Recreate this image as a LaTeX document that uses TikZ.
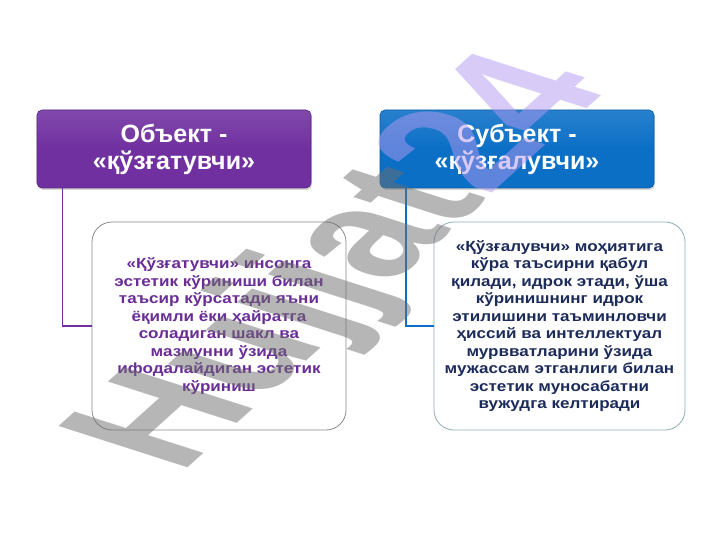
\documentclass[tikz,border=0pt]{standalone}
\usepackage{fontspec}
\setmainfont{Liberation Sans}
\newfontfamily\boxfont[FakeStretch=1.16]{Liberation Sans}
\usetikzlibrary{shadows}
\definecolor{objpurple}{HTML}{7030A0}
\definecolor{subjblue}{HTML}{0B6FC6}
\definecolor{objink}{HTML}{6A2D96}
\definecolor{subjink}{HTML}{1C2B5A}
\definecolor{objedge}{HTML}{8A8A8A}
\definecolor{subjedge}{HTML}{8FAFB8}
\definecolor{wmgray}{HTML}{6E6E6E}
\definecolor{wmlav}{HTML}{B399F0}
\tikzset{ head/.style={draw=#1!80!black, line width=0.6bp,
            top color=#1!88!white, bottom color=#1, middle color=#1,
            rounded corners=5bp, minimum width=274bp, minimum height=78bp,
            text=white, align=center,
            font=\bfseries\fontsize{25bp}{27bp}\selectfont,
            drop shadow={opacity=0.3, shadow xshift=1bp, shadow yshift=-2bp}, }}
\tikzset{ txtbox/.style={draw=#1, line width=0.8bp, fill=white,
            rounded corners=20bp, minimum width=254bp, minimum height=208bp,
            align=center, font=\boxfont\bfseries\fontsize{14.7bp}{17.5bp}\selectfont, }}
\tikzset{ link/.style={draw=#1, line width=1.6bp}}

\begin{document}
\begin{tikzpicture}[x=1bp, y=-1bp]

\fill[white] (0,0) rectangle (720,540);
\useasboundingbox (0,0) rectangle (720,540);

\node[head=objpurple] (obj) at (174,149) {Объект -\\«қўзғатувчи»};
\node[head=subjblue] (subj) at (517,149) {Субъект -\\«қўзғалувчи»};

\node[txtbox=objedge, text=objink] (objtxt) at (219,326) {
  «Қўзғатувчи» инсонга\\ эстетик кўриниши билан\\ таъсир кўрсатади яъни\\
  ёқимли ёки ҳайратга\\ соладиган шакл ва\\ мазмунни ўзида\\
  ифодалайдиган эстетик\\ кўриниш};
\node[txtbox=subjedge, text=subjink, minimum width=251bp] (subjtxt) at (559.5,326) {
  «Қўзғалувчи» моҳиятига\\ кўра таъсирни қабул\\ қилади, идрок этади, ўша\\
  кўринишнинг идрок\\ этилишини таъминловчи\\ ҳиссий ва интеллектуал\\
  мурвватларини ўзида\\ мужассам этганлиги билан\\ эстетик муносабатни\\
  вужудга келтиради};

\foreach \a/\b/\c in {obj/objtxt/objpurple, subj/subjtxt/subjblue} %elbows
  \draw[link=\c] ([xshift=26bp]\a.south west) |- (\b.west);

% watermark
\begin{scope}[cm={0.817,0.736,-1.378,0.442,(180,475)}]
\node[transform shape, anchor=base west, inner sep=0, text opacity=0.5,
      font=\bfseries\fontsize{136bp}{140bp}\selectfont] (wm) at (0,0)
      {\color{wmgray}Hujjat\color{wmlav}24};
\end{scope}

\end{tikzpicture}
\end{document}
